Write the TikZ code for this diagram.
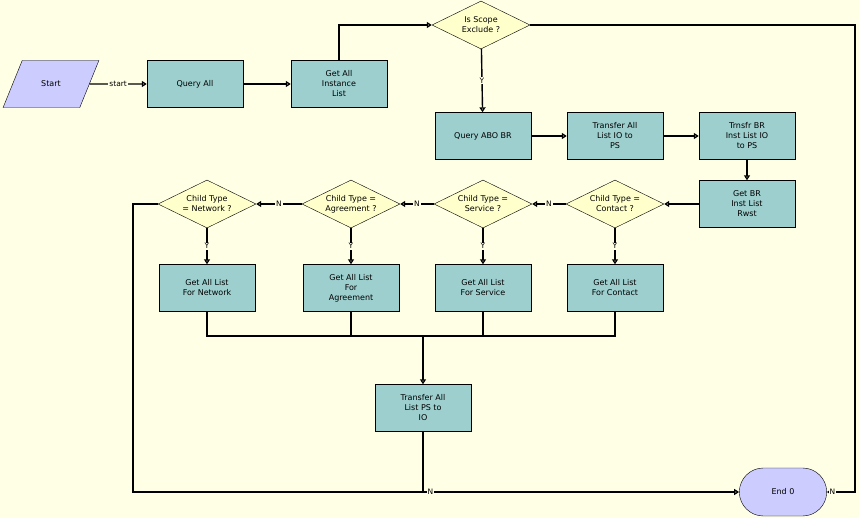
\documentclass[tikz,border=0pt]{standalone}
\usepackage{fontspec}
\setmainfont{DejaVu Sans}
\usetikzlibrary{shapes.geometric,shapes.misc,arrows.meta,positioning}
\definecolor{bgcol}{HTML}{FFFFE6}
\definecolor{boxcol}{HTML}{9ECFCF}
\definecolor{deccol}{HTML}{FFFFCC}
\definecolor{termcol}{HTML}{CCCCFF}
\tikzset{
  task/.style={draw, rectangle, fill=boxcol, minimum width=96pt, minimum height=47pt, align=center, inner sep=1pt},
  decision/.style={draw, diamond, fill=deccol, aspect=2, minimum width=98pt, minimum height=48pt, align=center, inner sep=0pt},
  flow/.style={-{Triangle[open,length=5pt,width=6pt]}, line width=1.4pt},
  lbl/.style={fill=bgcol, inner sep=1pt, font=\fontsize{7.5}{8}\selectfont}
}
\begin{document}
\begin{tikzpicture}[x=1pt, y=-1pt, font=\fontsize{8}{10}\selectfont]
    \fill [bgcol] (0,0) rectangle (859,518);
    \useasboundingbox (0,0) rectangle (859,518);
    % Nodes
    \node [draw, trapezium, trapezium left angle=63, trapezium right angle=117, trapezium stretches=true, fill=termcol, minimum width=96pt, minimum height=47pt, inner xsep=0pt] (start) at (51,84) {Start};
    \node [task] (queryall) at (195,84) {Query All};
    \node [task] (getinst) at (339,84) {Get All\\Instance\\List};
    \node [decision] (scope) at (481,25) {Is Scope\\Exclude ?};
    \node [task] (queryabo) at (483,136) {Query ABO BR};
    \node [task] (xferio) at (615,136) {Transfer All\\List IO to\\PS};
    \node [task] (trnsfr) at (747,136) {Trnsfr BR\\Inst List IO\\to PS};
    \node [task] (getbr) at (747,204) {Get BR\\Inst List\\Rwst};
    \node [decision] (contact) at (615,204) {Child Type =\\Contact ?};
    \node [decision] (service) at (483,204) {Child Type =\\Service ?};
    \node [decision] (agree) at (351,204) {Child Type =\\Agreement ?};
    \node [decision] (network) at (207,204) {Child Type\\= Network ?};
    \node [task] (getcontact) at (615,288) {Get All List\\For Contact};
    \node [task] (getservice) at (483,288) {Get All List\\For Service};
    \node [task] (getagree) at (351,288) {Get All List\\For\\Agreement};
    \node [task] (getnetwork) at (207,288) {Get All List\\For Network};
    \node [task] (xferps) at (423,408) {Transfer All\\List PS to\\IO};
    \node [draw, rounded rectangle, fill=termcol, minimum width=94pt, minimum height=48pt] (end) at (783,492) {End 0};
    \coordinate (join) at (423,336);
    % Arrows
    \draw [flow] (start) -- node [lbl] {start} (queryall);
    \draw [flow] (queryall) -- (getinst);
    \draw [flow] (getinst.north) |- (scope.west);
    \draw [flow] (scope) -- node [lbl] {Y} (queryabo);
    \draw [flow] (queryabo) -- (xferio);
    \draw [flow] (xferio) -- (trnsfr);
    \draw [flow] (trnsfr) -- (getbr);
    \draw [flow] (getbr) -- (contact);
    \draw [flow] (contact) -- node [lbl] {N} (service);
    \draw [flow] (service) -- node [lbl] {N} (agree);
    \draw [flow] (agree) -- node [lbl] {N} (network);
    \draw [flow] (contact) -- node [lbl] {Y} (getcontact);
    \draw [flow] (service) -- node [lbl] {Y} (getservice);
    \draw [flow] (agree) -- node [lbl] {Y} (getagree);
    \draw [flow] (network) -- node [lbl] {Y} (getnetwork);
    \draw [line width=1.4pt] (getnetwork.south) |- (join);
    \draw [line width=1.4pt] (getagree.south) |- (join);
    \draw [line width=1.4pt] (getservice.south) |- (join);
    \draw [line width=1.4pt] (getcontact.south) |- (join);
    \draw [flow] (join) -- (xferps);
    \draw [flow] (network.west) -- (133,204) |- (end.west);
    \draw [line width=1.4pt] (xferps.south) -- (423,492) node [lbl, right=3pt] {N};
    \draw [flow] (scope.east) -- (855,25) |- node [lbl, pos=0.9] {N} (end.east);
\end{tikzpicture}
\end{document}
